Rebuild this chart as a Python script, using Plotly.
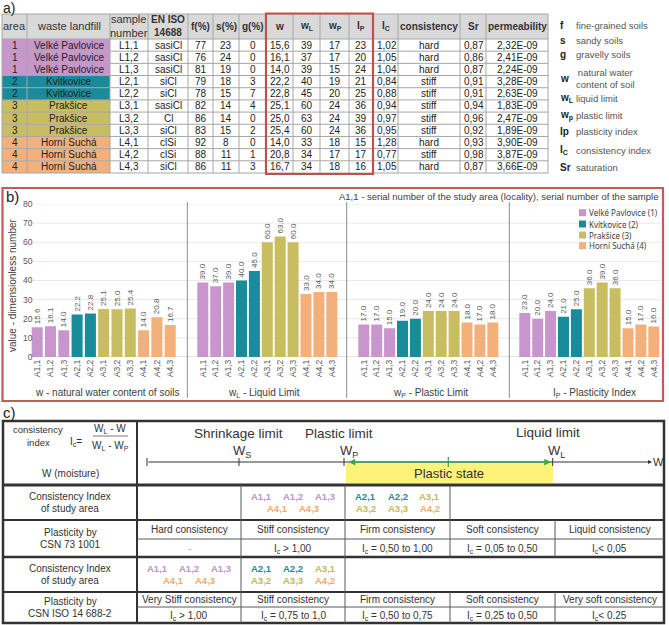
import plotly.graph_objects as go

W, H = 669, 625
FONT = "Liberation Sans, Arial, sans-serif"
FONT2 = "Noto Sans, Open Sans, sans-serif"

# ---------------- data: table a) ----------------
area = [1, 1, 1, 2, 2, 3, 3, 3, 4, 4, 4]
landfill_names = {1: "Velké Pavlovice", 2: "Kvitkovice", 3: "Prakšice", 4: "Horní Suchá"}
legend_names = ["Velké Pavlovice (1)", "Kvítkovice (2)", "Prakšice (3)", "Horní Suchá (4)"]
sample_no = ["L1,1", "L1,2", "L1,3", "L2,1", "L2,2", "L3,1", "L3,2", "L3,3", "L4,1", "L4,2", "L4,3"]
chart_labels = ["A1,1", "A1,2", "A1,3", "A2,1", "A2,2", "A3,1", "A3,2", "A3,3", "A4,1", "A4,2", "A4,3"]
en_iso = ["sasiCl", "sasiCl", "sasiCl", "siCl", "siCl", "sasiCl", "Cl", "siCl", "clSi", "clSi", "siCl"]
fine = [77, 76, 81, 79, 78, 82, 86, 83, 92, 88, 86]
sand = [23, 24, 19, 18, 15, 14, 14, 15, 8, 11, 11]
gravel = [0, 0, 0, 3, 7, 4, 0, 2, 0, 1, 3]
w = [15.6, 16.1, 14.0, 22.2, 22.8, 25.1, 25.0, 25.4, 14.0, 20.8, 16.7]
wL = [39, 37, 39, 40, 45, 60, 63, 60, 33, 34, 34]
wP = [17, 17, 15, 19, 20, 24, 24, 24, 18, 17, 18]
Ip = [23, 20, 24, 21, 25, 36, 39, 36, 15, 17, 16]
Ic = [1.02, 1.05, 1.04, 0.84, 0.88, 0.94, 0.97, 0.95, 1.28, 0.77, 1.05]
consistency = ["hard", "hard", "hard", "stiff", "stiff", "stiff", "stiff", "stiff", "hard", "stiff", "hard"]
Sr = [0.87, 0.86, 0.87, 0.91, 0.91, 0.94, 0.96, 0.92, 0.93, 0.98, 0.87]
permeability = [2.32e-9, 2.41e-9, 2.24e-9, 3.28e-9, 2.63e-9, 1.83e-9, 2.47e-9, 1.89e-9, 3.90e-9, 3.87e-9, 3.66e-9]

area_colors = ["#C995CD", "#1A8B9B", "#C9BD62", "#F3B07B"]
label_colors = ["#C48ED0", "#1E8A9C", "#C8B560", "#F0AA6C"]

headers_a = ["area", "waste landfill", "sample<br>number", "EN ISO<br>14688", "f(%)", "s(%)", "g(%)",
             "w", "w<sub>L</sub>", "w<sub>P</sub>", "I<sub>P</sub>", "I<sub>C</sub>",
             "consistency", "Sr", "permeability"]
header_bold = [False, False, False, True, True, True, True, True, True, True, True, True, True, True, True]

symbols_a = ["f", "s", "g", "w", "w<sub>L</sub>", "w<sub>p</sub>", "Ip", "I<sub>C</sub>", "Sr"]
meanings_a = ["fine-grained soils", "sandy soils", "gravelly soils", "natural water<br>content of soil",
              "liquid limit", "plastic limit", "plasticity index", "consistency index", "saturation"]

# ---------------- data: chart b) ----------------
panel_values = [w, wL, wP, Ip]
panel_titles = ["w - natural water content of soils", "w<sub>L</sub> - Liquid Limit",
                "w<sub>P</sub> - Plastic Limit", "I<sub>P</sub> - Plasticity Index"]
y_ticks = [0, 10, 20, 30, 40, 50, 60, 70, 80]
note_b = "A1,1 - serial number of the study area (locality), serial number of the sample"

# ---------------- data: scheme c) ----------------
csn_states = ["Hard consistency", "Stiff consistency", "Firm consistency", "Soft consistency", "Liquid consistency"]
csn_ranges = ["-", "I<sub>c</sub> > 1,00", "I<sub>c</sub> = 0,50 to 1,00", "I<sub>c</sub> = 0,05 to 0,50", "I<sub>c</sub>< 0,05"]
csn_bounds = [None, (1.00, 99), (0.50, 1.00), (0.05, 0.50), (-99, 0.05)]
iso_states = ["Very Stiff consistency", "Stiff consistency", "Firm consistency", "Soft consistency", "Very soft consistency"]
iso_ranges = ["I<sub>c</sub> > 1,00", "I<sub>c</sub> = 0,75 to 1,0", "I<sub>c</sub> = 0,50 to 0,75", "I<sub>c</sub> = 0,25 to 0,50", "I<sub>c</sub>< 0.25"]
iso_bounds = [(1.00, 99), (0.75, 1.00), (0.50, 0.75), (0.25, 0.50), (-99, 0.25)]


def comma(v, d):
    return f"{v:.{d}f}".replace(".", ",")


# ---------------- helpers (pixel layout -> paper) ----------------
shapes, annotations = [], []


def X(px):
    return px / W


def Y(py):
    return 1 - py / H


def line(x0, y0, x1, y1, color="#333", width=1):
    shapes.append(dict(type="line", xref="paper", yref="paper", x0=X(x0), y0=Y(y0), x1=X(x1), y1=Y(y1),
                       line=dict(color=color, width=width)))


def rect(x0, y0, x1, y1, fill=None, lc=None, lw=0, layer="above"):
    d = dict(type="rect", xref="paper", yref="paper", x0=X(x0), y0=Y(y0), x1=X(x1), y1=Y(y1),
             line=dict(color=lc or "rgba(0,0,0,0)", width=lw), layer=layer)
    if fill:
        d["fillcolor"] = fill
    shapes.append(d)


def text(x, y, s, size=10, color="#333", xanchor="center", yanchor="middle", family=FONT, bold=False, angle=0):
    if bold:
        s = "<b>" + s + "</b>"
    annotations.append(dict(x=X(x), y=Y(y), xref="paper", yref="paper", text=s, showarrow=False,
                            xanchor=xanchor, yanchor=yanchor, textangle=angle,
                            font=dict(size=size, color=color, family=family), borderpad=0))


# ================= a) table =================
text(2, 7.5, "a)", size=14, color="#222", xanchor="left")
col_edges = [2, 27, 110, 148, 188, 213, 239, 266, 293, 320, 349, 373, 398, 460, 486, 548]
top_a, head_b = 14, 39
row_h = (173 - head_b) / len(area)
row_edges = [head_b + i * row_h for i in range(len(area) + 1)]

cols_text = [
    [str(a) for a in area],
    [landfill_names[a] for a in area],
    sample_no,
    en_iso,
    [str(v) for v in fine],
    [str(v) for v in sand],
    [str(v) for v in gravel],
    [comma(v, 1) for v in w],
    [str(v) for v in wL],
    [str(v) for v in wP],
    [str(v) for v in Ip],
    [comma(v, 2) for v in Ic],
    consistency,
    [comma(v, 2) for v in Sr],
    [f"{v:.2E}".replace(".", ",") for v in permeability],
]
col_align = ["center", "center", "center", "center", "center", "center", "center", "left",
             "center", "center", "center", "left", "center", "left", "center"]

rect(col_edges[0], top_a, col_edges[-1], head_b, fill="#D9D9D9", layer="below")
for r, a in enumerate(area):
    rect(col_edges[0], row_edges[r], col_edges[2], row_edges[r + 1], fill=area_colors[a - 1], layer="below")
for y in [top_a] + row_edges:
    line(col_edges[0], y, col_edges[-1], y, color="#A6A6A6", width=1)
for x in col_edges:
    line(x, top_a, x, row_edges[-1], color="#A6A6A6", width=1)

for c, h in enumerate(headers_a):
    cx = (col_edges[c] + col_edges[c + 1]) / 2
    if header_bold[c]:
        text(cx, (top_a + head_b) / 2, h, size=10, color="#333", bold=True)
    else:
        text(cx, (top_a + head_b) / 2, h, size=11, color="#333")
    for r in range(len(area)):
        cy = (row_edges[r] + row_edges[r + 1]) / 2
        if col_align[c] == "left":
            text(col_edges[c] + 2.5, cy, cols_text[c][r], size=10, color="#222", xanchor="left")
        else:
            text(cx, cy, cols_text[c][r], size=10, color="#222")

rect(266, 13.5, 373, 174, lc="#C0504D", lw=2.2)

sym_y = [25, 40, 55, 78, 98, 116, 131, 150, 168]
for s, m, yy in zip(symbols_a, meanings_a, sym_y):
    text(559, yy, s, size=10, color="#222", xanchor="left", bold=True)
    text(575, yy, m, size=9.5, color="#555", xanchor="left")

# ================= b) chart =================
rect(2.5, 188, 663, 401, lc="#C55A5A", lw=2.2)
text(5, 197, "b)", size=15, color="#222", xanchor="left")

panel_px = [(30.55, 176.85), (196.35, 338.25), (357.35, 499.25), (518.35, 660.25)]
bar_width = [0.83, 0.853, 0.853, 0.853]
y0_px, y80_px = 357, 204

fig = go.Figure()
for p, vals in enumerate(panel_values):
    ax = "" if p == 0 else str(p + 1)
    for k in range(4):
        idx = [i for i, a in enumerate(area) if a == k + 1]
        fig.add_trace(go.Bar(
            x=[chart_labels[i] for i in idx], y=[vals[i] for i in idx],
            name=legend_names[k], marker=dict(color=area_colors[k], line=dict(width=0)),
            width=bar_width[p], text=[f"{vals[i]:.1f}" for i in idx],
            textposition="outside", textangle=-90, constraintext="none", cliponaxis=False,
            textfont=dict(size=8, color="#595959", family=FONT),
            xaxis="x" + ax, yaxis="y" + ax, showlegend=False, hoverinfo="skip"))

layout_axes = {}
for p in range(4):
    ax = "" if p == 0 else str(p + 1)
    l, r = panel_px[p]
    layout_axes["xaxis" + ax] = dict(domain=[X(l), X(r)], anchor="y" + ax, type="category",
                                    categoryorder="array", categoryarray=chart_labels, range=[-0.5, 10.5],
                                    tickangle=-90, tickfont=dict(size=8.5, color="#595959", family=FONT),
                                    showgrid=False, zeroline=False, showline=False, ticks="", fixedrange=True)
    layout_axes["yaxis" + ax] = dict(domain=[Y(y0_px), Y(y80_px)], anchor="x" + ax, range=[0, 80],
                                    tickvals=y_ticks, showticklabels=(p == 0), ticklabelstandoff=-3,
                                    tickfont=dict(size=8.5, color="#595959", family=FONT),
                                    showgrid=False, zeroline=False, showline=False, ticks="", fixedrange=True)

for v in y_ticks:
    shapes.append(dict(type="line", xref="paper", yref="y", x0=X(30.5), x1=X(661), y0=v, y1=v,
                       line=dict(color="#C9C9C9" if v == 0 else "#E9E9E9", width=1), layer="below"))
for sx in [187.3, 346.7, 509.3]:
    line(sx, 202, sx, 398, color="#8C8C8C", width=1)

title_cx = [107, 264, 430, 594]
for t, cx in zip(panel_titles, title_cx):
    text(cx, 392.5, t, size=10, color="#404040")
text(12, 285, "value - dimensionless number", size=10, color="#404040", angle=-90)
text(659, 196, note_b, size=9.5, color="#404040", xanchor="right")

leg_y = [212.7, 224, 235, 245.7]
for k in range(4):
    rect(579, leg_y[k] - 3.5, 586, leg_y[k] + 3.5, fill=area_colors[k])
    text(588, leg_y[k], legend_names[k], size=8, color="#404040", xanchor="left", family=FONT2)

# ================= c) scheme =================
text(2, 412, "c)", size=15, color="#222", xanchor="left")
c_cols = [3, 137, 241, 345, 450, 555, 664]
c_rows = [421, 485, 520, 539, 557, 592, 607, 623]
DARK, MID = "#333333", "#595959"

# diagram row
rect(346, 463, 553, 483, fill="#FFF27A", layer="below")
text(38, 430, "consistency", size=9.5, color=DARK)
text(38, 442, "index", size=9.5, color=DARK)
text(76, 442, "I<sub>c</sub>=", size=10, color=DARK)
text(110, 429, "W<sub>L</sub> - W", size=10, color=DARK)
line(93, 436, 128, 436, color=MID, width=0.8)
text(110, 446, "W<sub>L</sub> - W<sub>P</sub>", size=10, color=DARK)
text(70, 473, "W (moisture)", size=10, color=DARK)

text(238, 433, "Shrinkage limit", size=13.5, color=DARK)
text(339, 433, "Plastic limit", size=13.5, color=DARK)
text(548, 432, "Liquid limit", size=13.5, color=DARK)
text(242, 452, "W<sub>S</sub>", size=13, color=DARK)
text(349, 452, "W<sub>P</sub>", size=13, color=DARK)
text(556, 452, "W<sub>L</sub>", size=13, color=DARK)
text(658, 462, "W", size=11, color=DARK)
annotations.append(dict(x=X(652), y=Y(462), xref="paper", yref="paper", text="", showarrow=True,
                        ax=-(652 - 147), ay=0, axref="pixel", ayref="pixel", arrowhead=2, arrowsize=0.8,
                        arrowwidth=1, arrowcolor=DARK, standoff=0, startstandoff=0))
for tx in [147, 239, 344, 552.7]:
    line(tx, 458, tx, 466, color=DARK, width=1)
annotations.append(dict(x=X(551), y=Y(462), xref="paper", yref="paper", text="", showarrow=True,
                        ax=-(551 - 347), ay=0, axref="pixel", ayref="pixel", arrowhead=2, arrowsize=0.9,
                        arrowwidth=1.5, arrowcolor="#3DA84A", arrowside="end+start", standoff=0, startstandoff=0))
line(448.3, 457, 448.3, 467, color="#3DA84A", width=1.2)
text(449, 473.5, "Plastic state", size=13, color=DARK)

# grid lines of the scheme
rect(c_cols[0], c_rows[0], c_cols[-1], c_rows[-1], lc=DARK, lw=2.5)
for yy, lw in [(485, 3), (520, 2), (557, 2.5), (592, 2)]:
    line(c_cols[0], yy, c_cols[-1], yy, color=DARK, width=lw)
line(c_cols[1], c_rows[0], c_cols[1], c_rows[-1], color=DARK, width=2)
for yy in [539, 607]:
    line(c_cols[1], yy, c_cols[-1], yy, color=MID, width=1)
for (ya, yb), xs in [((485, 520), c_cols[2:5]), ((520, 557), c_cols[2:6]),
                     ((557, 592), c_cols[2:4]), ((592, 623), c_cols[2:6])]:
    for xx in xs:
        line(xx, ya, xx, yb, color=MID, width=1)

# left column labels
for (ya, yb), l1, l2 in [((485, 520), "Consistency Index", "of study area"),
                         ((520, 557), "Plasticity by", "CSN 73 1001"),
                         ((557, 592), "Consistency Index", "of study area"),
                         ((592, 623), "Plasticity by", "CSN ISO 14 688-2")]:
    cy = (ya + yb) / 2
    text(70, cy - 6, l1, size=10, color=DARK)
    text(70, cy + 6, l2, size=10, color=DARK)

# state/range rows
for i in range(5):
    cx = (c_cols[i + 1] + c_cols[i + 2]) / 2
    text(cx, 529.5, csn_states[i], size=10, color=DARK)
    text(cx, 548.5, csn_ranges[i], size=10, color="#AAAAAA" if csn_ranges[i] == "-" else DARK)
    text(cx, 599.5, iso_states[i], size=10, color=DARK)
    text(cx, 615.5, iso_ranges[i], size=10, color=DARK)


def place_group(members, cx, cy):
    for li, grp in enumerate([members[:3], members[3:]]):
        n = len(grp)
        offs = [-32, 0, 32] if n == 3 else ([-16, 16] if n == 2 else [0])
        for j, i in enumerate(grp):
            text(cx + offs[j], cy + (-6 if li == 0 else 6), chart_labels[i], size=9.5,
                 color=label_colors[area[i] - 1], bold=True)


for bounds, (ya, yb) in [(csn_bounds, (485, 520)), (iso_bounds, (557, 592))]:
    for k, b in enumerate(bounds):
        if b is None:
            continue
        lo, hi = b
        members = [i for i, v in enumerate(Ic) if lo < v <= hi]
        if members:
            cx = (c_cols[k + 1] + c_cols[k + 2]) / 2
            place_group(members, cx, (ya + yb) / 2)

fig.update_layout(
    width=W, height=H, autosize=False, margin=dict(l=0, r=0, t=0, b=0),
    paper_bgcolor="white", plot_bgcolor="rgba(0,0,0,0)", template="none",
    showlegend=False, barmode="overlay", shapes=shapes, annotations=annotations,
    font=dict(family=FONT, size=10, color="#333"), **layout_axes)

fig.write_html("out.html", config={"displayModeBar": False, "staticPlot": True},
               post_script="document.body.style.margin='0';document.body.style.overflow='hidden';")
